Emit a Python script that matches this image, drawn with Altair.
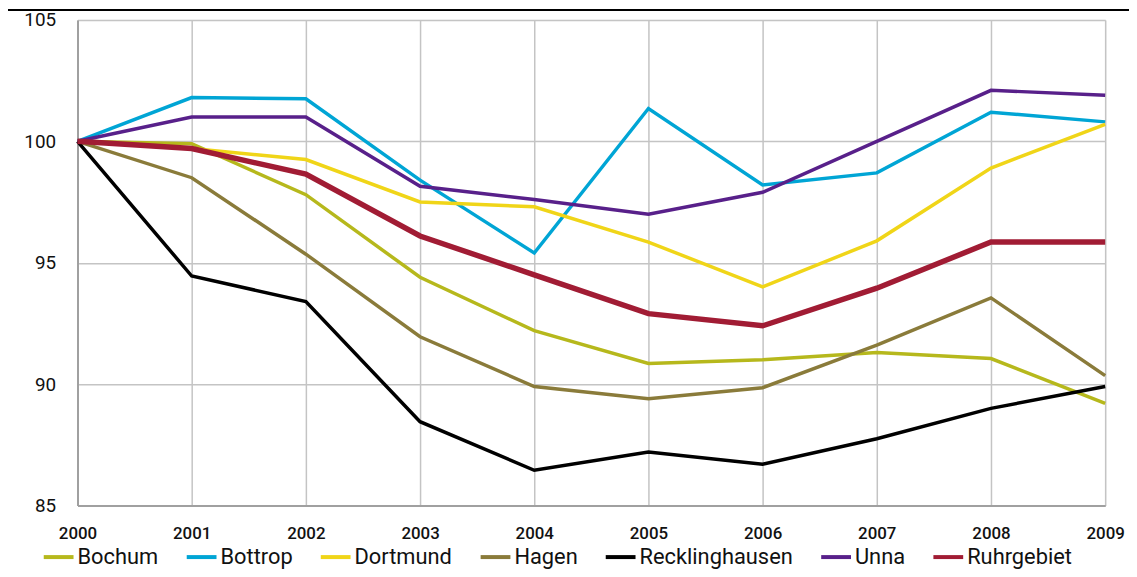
import altair as alt
import pandas as pd

years = [2000, 2001, 2002, 2003, 2004, 2005, 2006, 2007, 2008, 2009]
series_names = ["Bochum", "Bottrop", "Dortmund", "Hagen", "Recklinghausen", "Unna", "Ruhrgebiet"]
colors = ["#b6b81c", "#00a5d5", "#f0d518", "#8a7b3a", "#000000", "#58208a", "#a11c34"]

bochum = [100, 99.9, 97.8, 94.4, 92.2, 90.85, 91.0, 91.3, 91.05, 89.2]
bottrop = [100, 101.8, 101.75, 98.4, 95.4, 101.35, 98.2, 98.7, 101.2, 100.8]
dortmund = [100, 99.7, 99.25, 97.5, 97.3, 95.85, 94.0, 95.9, 98.9, 100.7]
hagen = [100, 98.5, 95.35, 91.95, 89.9, 89.4, 89.85, 91.6, 93.55, 90.35]
recklinghausen = [100, 94.45, 93.4, 88.45, 86.45, 87.2, 86.7, 87.75, 89.0, 89.9]
unna = [100, 101.0, 101.0, 98.15, 97.6, 97.0, 97.9, 100.0, 102.1, 101.9]
ruhrgebiet = [100, 99.7, 98.65, 96.1, 94.5, 92.9, 92.4, 93.95, 95.85, 95.85]

values = [bochum, bottrop, dortmund, hagen, recklinghausen, unna, ruhrgebiet]
rows = []
for i, (name, vals) in enumerate(zip(series_names, values)):
    for y, v in zip(years, vals):
        rows.append({"Jahr": y, "Wert": v, "Gebiet": name, "idx": i,
                     "sw": 5.5 if name == "Ruhrgebiet" else 3.5})
df = pd.DataFrame(rows)

FONT = "Roboto"

lines = alt.Chart(df).mark_line(strokeJoin="miter", strokeCap="butt").encode(
    x=alt.X("Jahr:Q",
            scale=alt.Scale(domain=[2000, 2009], nice=False, zero=False),
            axis=alt.Axis(values=years, format="d", title=None, grid=True,
                          gridColor="#c4c4c4", gridWidth=1.5,
                          domain=True, domainColor="#a0a0a0", domainWidth=2,
                          ticks=False, labelFont=FONT, labelFontSize=17,
                          labelFontWeight=500, labelColor="#111",
                          labelPadding=20, labelFlush=False)),
    y=alt.Y("Wert:Q",
            scale=alt.Scale(domain=[85, 105], nice=False, zero=False),
            axis=alt.Axis(values=[85, 90, 95, 100, 105], title=None, grid=True,
                          gridColor="#c4c4c4", gridWidth=1.5,
                          domain=True, domainColor="#a0a0a0", domainWidth=2,
                          ticks=False, labelFont=FONT, labelFontSize=19,
                          labelColor="#111", labelPadding=22)),
    color=alt.Color("Gebiet:N",
                    scale=alt.Scale(domain=series_names, range=colors),
                    legend=alt.Legend(title=None, orient="none", direction="horizontal",
                                      legendX=-36, legendY=524,
                                      symbolType="stroke", symbolStrokeWidth=4,
                                      symbolSize=900, labelFont=FONT,
                                      labelFontSize=22, labelColor="#111",
                                      labelOffset=2, columnPadding=20,
                                      labelLimit=300, padding=0)),
    strokeWidth=alt.StrokeWidth("sw:Q", scale=None, legend=None),
    order=alt.Order("Jahr:Q"),
    detail="idx:N",
)

top_rule = alt.Chart(pd.DataFrame({"a": [0]})).mark_rule(color="#000", strokeWidth=2).encode(
    x=alt.value(-73), x2=alt.value(1059), y=alt.value(-10)
)

chart = alt.layer(lines, top_rule).properties(
    width=1035, height=489,
    autosize=alt.AutoSizeParams(type="none"),
    padding={"left": 70, "top": 10, "right": 24, "bottom": 62},
).configure_view(stroke=None).configure(background="white")

chart.save("out.html", embed_options={"renderer": "svg", "actions": False})
